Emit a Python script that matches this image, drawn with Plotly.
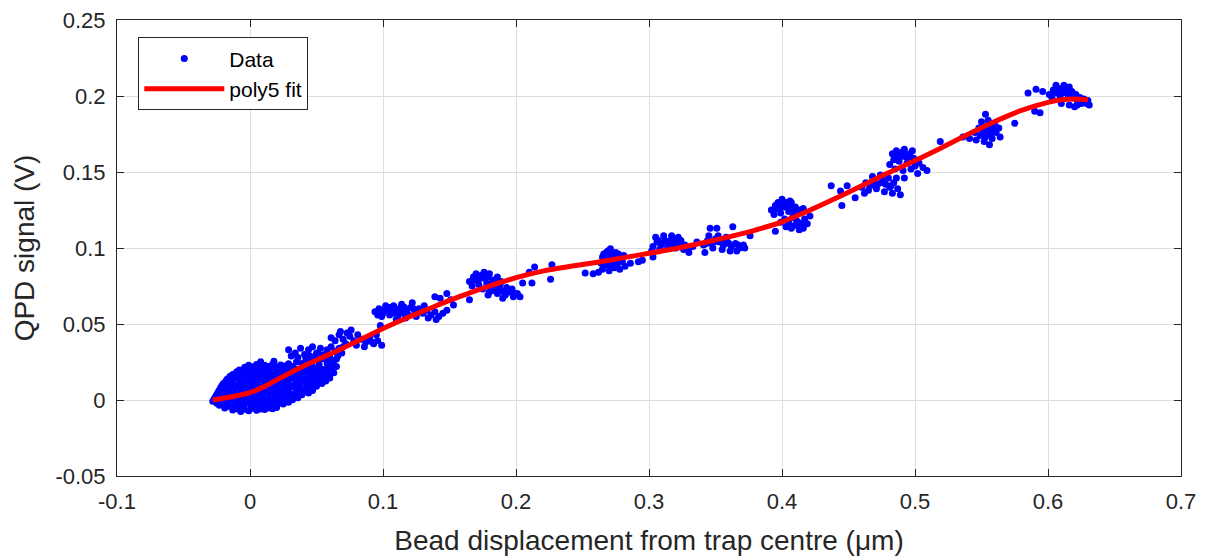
import plotly.graph_objects as go

# ---------------- data ----------------
# cluster A: dense blob around the trap centre
a_x = [-0.013,-0.007,-0.001,0.005,0.011,0.017,
       -0.023,-0.017,-0.011,-0.005,0.001,0.007,0.013,0.019,0.025,
       -0.028,-0.021,-0.015,-0.009,-0.003,0.003,0.009,0.015,0.021,0.027,0.032,
       -0.026,-0.020,-0.014,-0.008,-0.002,0.004,0.010,0.016,0.022,0.028,0.034,0.039,
       -0.024,-0.018,-0.012,-0.006,0.000,0.006,0.012,0.018,0.024,0.030,0.036,0.042,0.047,
       -0.022,-0.016,-0.010,-0.004,0.002,0.008,0.014,0.020,0.026,0.032,0.038,0.044,0.050,
       -0.020,-0.014,-0.008,-0.002,0.004,0.010,0.016,0.022,0.028,0.034,0.040,0.046,0.052,0.057,
       -0.017,-0.011,-0.005,0.001,0.007,0.013,0.019,0.025,0.031,0.037,0.043,0.049,0.055,
       -0.013,-0.007,-0.001,0.005,0.011,0.017,0.023,0.029,0.035,0.041,0.047,0.053,
       -0.008,-0.002,0.004,0.010,0.016,0.022,0.028,0.034,0.040,0.046,
       -0.001,0.005,0.011,0.017,0.023,0.029,
       0.008,0.018]
a_y = [-0.0065,-0.0075,-0.0070,-0.0068,-0.0062,-0.0058,
       -0.0035,-0.0042,-0.0038,-0.0045,-0.0040,-0.0036,-0.0043,-0.0031,-0.0027,
       -0.0008,-0.0012,-0.0005,-0.0015,-0.0009,-0.0013,-0.0006,-0.0011,-0.0004,-0.0010,0.0002,
       0.0022,0.0017,0.0025,0.0019,0.0024,0.0016,0.0023,0.0018,0.0026,0.0020,0.0028,0.0035,
       0.0051,0.0046,0.0055,0.0048,0.0053,0.0047,0.0056,0.0049,0.0054,0.0045,0.0052,0.0058,0.0063,
       0.0083,0.0077,0.0085,0.0079,0.0086,0.0078,0.0084,0.0076,0.0082,0.0088,0.0079,0.0085,0.0091,
       0.0108,0.0115,0.0106,0.0112,0.0117,0.0109,0.0114,0.0105,0.0113,0.0108,0.0116,0.0111,0.0119,0.0125,
       0.0138,0.0145,0.0136,0.0143,0.0139,0.0147,0.0141,0.0135,0.0144,0.0149,0.0142,0.0151,0.0156,
       0.0168,0.0176,0.0171,0.0165,0.0174,0.0169,0.0177,0.0172,0.0181,0.0185,0.0179,0.0188,
       0.0198,0.0205,0.0201,0.0207,0.0199,0.0206,0.0211,0.0203,0.0215,0.0221,
       0.0228,0.0234,0.0229,0.0236,0.0231,0.0238,
       0.0252,0.0255]

# cluster A, in-between rows
a2_x = [-0.019,-0.010,-0.004,0.002,0.008,0.014,0.020,
        -0.025,-0.019,-0.013,-0.007,-0.001,0.005,0.011,0.017,0.023,0.029,
        -0.027,-0.023,-0.017,-0.011,-0.005,0.001,0.007,0.013,0.019,0.025,0.031,0.036,
        -0.025,-0.021,-0.015,-0.009,-0.003,0.003,0.009,0.015,0.021,0.027,0.033,0.039,0.044,
        -0.023,-0.019,-0.013,-0.007,-0.001,0.005,0.011,0.017,0.023,0.029,0.035,0.041,0.047,
        -0.021,-0.017,-0.011,-0.005,0.001,0.007,0.013,0.019,0.025,0.031,0.037,0.043,0.049,0.054,
        -0.018,-0.013,-0.007,-0.001,0.005,0.011,0.017,0.023,0.029,0.035,0.041,0.047,0.053,
        -0.015,-0.009,-0.003,0.003,0.009,0.015,0.021,0.027,0.033,0.039,0.045,0.051,
        -0.010,-0.004,0.002,0.008,0.014,0.020,0.026,0.032,0.038,0.044,0.050,
        -0.004,0.002,0.008,0.014,0.020,0.026,0.032]
a2_y = [-0.0052,-0.0058,-0.0061,-0.0055,-0.0059,-0.0052,-0.0049,
        -0.0022,-0.0028,-0.0024,-0.0029,-0.0021,-0.0027,-0.0023,-0.0026,-0.0019,-0.0015,
        0.0006,0.0003,0.0009,0.0002,0.0007,0.0004,0.0010,0.0003,0.0008,0.0005,0.0011,0.0015,
        0.0036,0.0033,0.0039,0.0032,0.0038,0.0034,0.0040,0.0033,0.0037,0.0031,0.0039,0.0042,0.0046,
        0.0066,0.0062,0.0069,0.0063,0.0068,0.0061,0.0067,0.0064,0.0070,0.0062,0.0068,0.0071,0.0075,
        0.0096,0.0092,0.0099,0.0093,0.0098,0.0091,0.0097,0.0094,0.0100,0.0092,0.0098,0.0101,0.0104,0.0108,
        0.0126,0.0122,0.0129,0.0123,0.0128,0.0121,0.0127,0.0124,0.0130,0.0122,0.0128,0.0131,0.0134,
        0.0156,0.0152,0.0159,0.0153,0.0158,0.0151,0.0157,0.0154,0.0160,0.0163,0.0158,0.0165,
        0.0186,0.0182,0.0189,0.0183,0.0188,0.0184,0.0191,0.0187,0.0194,0.0198,0.0201,
        0.0216,0.0219,0.0213,0.0221,0.0217,0.0224,0.0220]

# cluster B
b_x = [0.029,0.034,0.038,0.041,0.044,0.047,0.050,0.053,0.056,0.058,0.061,0.064,0.067,
       0.036,0.042,0.048,0.054,0.060,0.063,0.058,0.052,0.061,0.066,0.069,0.055,0.059,
       0.063,0.045,0.039,0.051,0.065,0.060,
       0.031,0.035,0.043,0.047,0.049,0.053,0.057,0.062,0.065,0.070,0.045,0.052,0.057]
b_y = [0.033,0.031,0.034,0.030,0.033,0.035,0.031,0.034,0.030,0.033,0.035,0.032,0.034,
       0.028,0.027,0.028,0.027,0.028,0.026,0.024,0.023,0.021,0.029,0.031,0.020,0.017,
       0.018,0.025,0.024,0.026,0.022,0.0145,
       0.029,0.025,0.021,0.022,0.018,0.016,0.020,0.024,0.027,0.035,0.029,0.030,0.027]

# cluster C
c_x = [0.061,0.064,0.067,0.070,0.073,0.075,0.078,0.081,0.084,0.087,0.090,0.093,
       0.072,0.080,0.086,0.096,0.099,0.076,0.068,0.095,0.098,0.092]
c_y = [0.041,0.039,0.043,0.040,0.044,0.042,0.039,0.043,0.040,0.038,0.041,0.037,
       0.037,0.036,0.035,0.039,0.036,0.046,0.045,0.043,0.049,0.038]

# cluster D
d_x = [0.094,0.097,0.100,0.103,0.106,0.109,0.112,0.115,0.118,0.121,0.124,0.099,
       0.105,0.111,0.117,0.108,0.114,0.102,0.127,0.130,0.133,0.136,0.139,0.142,
       0.145,0.148,0.134,0.140,0.125,0.131,0.122,0.139,0.143,0.148,0.153,0.151,0.110,
       0.096,0.101,0.107,0.113,0.119,0.104,0.116,0.123]
d_y = [0.058,0.060,0.057,0.059,0.061,0.058,0.060,0.057,0.059,0.061,0.058,0.055,
       0.056,0.055,0.054,0.062,0.063,0.062,0.060,0.057,0.059,0.056,0.058,0.055,
       0.057,0.059,0.054,0.053,0.055,0.062,0.064,0.068,0.067,0.070,0.0625,0.066,0.053,
       0.056,0.059,0.057,0.058,0.056,0.060,0.061,0.060]

# cluster E
e_x = [0.165,0.168,0.171,0.174,0.177,0.180,0.183,0.186,0.189,0.167,0.172,0.178,
       0.184,0.170,0.176,0.181,0.187,0.175,0.180,0.183,0.186,0.189,0.192,0.195,
       0.198,0.201,0.203,0.193,0.197,0.190,0.179,0.165,0.205,0.210,0.212,0.214,
       0.226,0.227,0.252,0.258,
       0.169,0.173,0.179,0.185,0.182,0.188,0.191,0.185,0.194,0.199]
e_y = [0.078,0.081,0.079,0.082,0.080,0.083,0.079,0.081,0.078,0.075,0.076,0.077,
       0.076,0.083,0.084,0.075,0.074,0.073,0.071,0.072,0.070,0.072,0.069,0.071,
       0.068,0.070,0.068,0.074,0.073,0.067,0.069,0.066,0.077,0.084,0.077,0.0875,
       0.0795,0.089,0.0835,0.083,
       0.079,0.080,0.081,0.079,0.077,0.076,0.071,0.073,0.072,0.070]

# cluster F
f_x = [0.266,0.269,0.272,0.275,0.278,0.267,0.270,0.273,0.276,0.264,0.268,0.272,
       0.276,0.280,0.265,0.270,0.274,0.278,0.282,0.262,0.271,0.286,0.292,0.295,
       0.303,0.281,0.268,0.271,0.274,0.277,0.265]
f_y = [0.096,0.098,0.095,0.097,0.094,0.093,0.092,0.091,0.093,0.090,0.089,0.088,
       0.089,0.091,0.086,0.085,0.087,0.086,0.088,0.084,0.0995,0.090,0.091,0.092,
       0.094,0.095,0.097,0.096,0.094,0.096,0.094]

# cluster G
g_x = [0.303,0.306,0.309,0.312,0.315,0.318,0.321,0.324,0.327,0.330,0.305,0.311,
       0.317,0.322,0.308,0.314,0.320,0.326,0.302,0.330,0.333,
       0.310,0.316,0.323,0.307,0.319]
g_y = [0.101,0.104,0.102,0.105,0.103,0.106,0.103,0.105,0.102,0.100,0.107,0.108,
       0.108,0.107,0.099,0.100,0.100,0.099,0.098,0.097,0.101,
       0.103,0.105,0.104,0.105,0.102]

# cluster H
h_x = [0.341,0.344,0.347,0.350,0.353,0.356,0.359,0.362,0.365,0.368,0.371,0.345,
       0.352,0.358,0.348,0.355,0.361,0.342,0.346,0.351,0.363,0.376,0.372,0.366,0.336,
       0.349,0.355,0.360,0.367,0.343]
h_y = [0.102,0.105,0.103,0.106,0.104,0.102,0.104,0.101,0.103,0.100,0.102,0.108,
       0.108,0.107,0.100,0.099,0.098,0.097,0.113,0.113,0.114,0.108,0.100,0.098,0.104,
       0.104,0.105,0.103,0.102,0.103]

# cluster I
i_x = [0.392,0.395,0.398,0.401,0.404,0.407,0.410,0.413,0.416,0.394,0.399,0.405,
       0.411,0.400,0.406,0.397,0.402,0.405,0.408,0.411,0.414,0.417,0.403,0.407,
       0.410,0.413,0.416,0.419,0.399,0.395,0.421,0.437,0.445,0.449,0.455,0.444,
       0.396,0.399,0.402,0.405,0.408,0.403,0.409,0.412,0.406]
i_y = [0.125,0.128,0.126,0.129,0.127,0.130,0.127,0.125,0.126,0.122,0.123,0.124,
       0.123,0.132,0.131,0.130,0.119,0.117,0.120,0.118,0.116,0.119,0.114,0.113,
       0.115,0.112,0.113,0.116,0.117,0.111,0.121,0.141,0.128,0.141,0.133,0.1375,
       0.126,0.128,0.127,0.128,0.125,0.130,0.121,0.117,0.115]

# cluster J
j_x = [0.460,0.463,0.466,0.469,0.472,0.475,0.478,0.481,0.484,0.487,0.465,0.471,
       0.477,0.483,0.468,0.474,0.480,0.486,0.489,0.462,
       0.481,0.484,0.487,0.490,0.493,0.496,0.499,0.488,0.494,0.500,0.485,0.491,
       0.497,0.503,0.506,0.509,0.492,0.486,0.498,0.483,0.492,0.519,0.502,
       0.489,0.491,0.494,0.495,0.486,0.470,0.476,0.482]
j_y = [0.140,0.143,0.141,0.144,0.142,0.145,0.142,0.140,0.143,0.139,0.138,0.139,
       0.137,0.136,0.147,0.148,0.146,0.146,0.135,0.136,
       0.155,0.158,0.161,0.163,0.160,0.162,0.159,0.157,0.156,0.154,0.152,0.151,
       0.152,0.156,0.153,0.151,0.165,0.164,0.164,0.162,0.146,0.170,0.149,
       0.160,0.162,0.161,0.158,0.159,0.141,0.143,0.141]

# cluster K
k_x = [0.545,0.548,0.551,0.554,0.557,0.560,0.549,0.553,0.557,0.561,0.546,0.552,
       0.558,0.550,0.555,0.553,0.541,0.536,0.564,0.575,0.556,0.563,
       0.551,0.555,0.559]
k_y = [0.176,0.179,0.177,0.180,0.178,0.181,0.174,0.173,0.175,0.176,0.171,0.170,
       0.172,0.183,0.184,0.188,0.172,0.173,0.173,0.182,0.168,0.179,
       0.180,0.177,0.179]

# cluster L
l_x = [0.601,0.604,0.607,0.610,0.613,0.616,0.603,0.609,0.615,0.619,0.622,0.625,
       0.628,0.631,0.606,0.612,0.618,0.621,0.624,0.627,0.630,0.610,0.616,0.622,
       0.585,0.591,0.596,0.590,0.594,0.620,
       0.605,0.608,0.611,0.614,0.617,0.626,0.629]
l_y = [0.201,0.204,0.202,0.205,0.203,0.206,0.199,0.200,0.201,0.199,0.197,0.195,
       0.196,0.194,0.207,0.207,0.203,0.201,0.199,0.198,0.197,0.195,0.194,0.194,
       0.202,0.2045,0.203,0.190,0.189,0.193,
       0.203,0.204,0.202,0.204,0.200,0.196,0.195]

# poly5 fit curve
fit_x = [-0.028,-0.02,-0.01,0.0,0.01,0.02,0.03,0.04,0.05,0.06,0.07,0.08,0.09,0.10,
         0.11,0.12,0.13,0.14,0.15,0.16,0.17,0.18,0.19,0.20,0.22,0.24,0.26,0.28,
         0.30,0.32,0.34,0.36,0.38,0.40,0.42,0.44,0.46,0.48,0.50,0.52,0.54,0.56,
         0.58,0.60,0.61,0.62,0.63]
fit_y = [0.0,0.0012,0.0028,0.0048,0.0085,0.0132,0.0178,0.0222,0.0262,0.0302,0.0342,
         0.0385,0.0428,0.0470,0.0510,0.0548,0.0585,0.0620,0.0655,0.0688,0.0720,
         0.0750,0.0778,0.0805,0.0848,0.0878,0.0905,0.0935,0.0965,0.0997,0.1033,
         0.1073,0.1118,0.1172,0.1245,0.1325,0.1410,0.1495,0.1575,0.1660,0.1748,
         0.1832,0.1905,0.1958,0.1975,0.1980,0.1975]

x_ticks = [-0.1, 0, 0.1, 0.2, 0.3, 0.4, 0.5, 0.6, 0.7]
x_tick_text = ["-0.1", "0", "0.1", "0.2", "0.3", "0.4", "0.5", "0.6", "0.7"]
y_ticks = [-0.05, 0, 0.05, 0.1, 0.15, 0.2, 0.25]
y_tick_text = ["-0.05", "0", "0.05", "0.1", "0.15", "0.2", "0.25"]

data_x = a_x + a2_x + b_x + c_x + d_x + e_x + f_x + g_x + h_x + i_x + j_x + k_x + l_x
data_y = a_y + a2_y + b_y + c_y + d_y + e_y + f_y + g_y + h_y + i_y + j_y + k_y + l_y

FONT = "Liberation Sans, Arial, sans-serif"
TXT = "#262626"

fig = go.Figure()
fig.add_trace(go.Scatter(x=data_x, y=data_y, mode="markers", name="Data",
                         marker=dict(color="#0000ff", size=7, line=dict(width=0))))
fig.add_trace(go.Scatter(x=fit_x, y=fit_y, mode="lines", name="poly5 fit",
                         line=dict(color="#ff0000", width=5, shape="spline")))

axis_common = dict(
    showgrid=True, gridcolor="#dedede", gridwidth=1,
    zeroline=False, showline=True, linecolor=TXT, linewidth=1,
    mirror="ticks", ticks="inside", ticklen=7, tickcolor=TXT, tickwidth=1,
    tickfont=dict(family=FONT, size=22, color=TXT), automargin=False,
)

fig.update_xaxes(range=[-0.1, 0.7], tickvals=x_ticks, ticktext=x_tick_text,
                 ticklabelstandoff=6,
                 title=dict(text="Bead displacement from trap centre (μm)",
                            font=dict(family=FONT, size=28, color=TXT), standoff=16),
                 **axis_common)
fig.update_yaxes(range=[-0.05, 0.25], tickvals=y_ticks, ticktext=y_tick_text,
                 ticklabelstandoff=6,
                 title=dict(text="QPD signal (V)",
                            font=dict(family=FONT, size=28, color=TXT), standoff=12),
                 **axis_common)

fig.update_layout(
    width=1207, height=559,
    margin=dict(l=117, r=26, t=20, b=83),
    paper_bgcolor="white", plot_bgcolor="white",
    showlegend=True,
    legend=dict(x=0.02, y=0.962, xanchor="left", yanchor="top",
                bgcolor="white", bordercolor=TXT, borderwidth=1,
                font=dict(family=FONT, size=21, color="black"),
                itemwidth=80, tracegroupgap=0),
)

fig.write_html("out.html")
